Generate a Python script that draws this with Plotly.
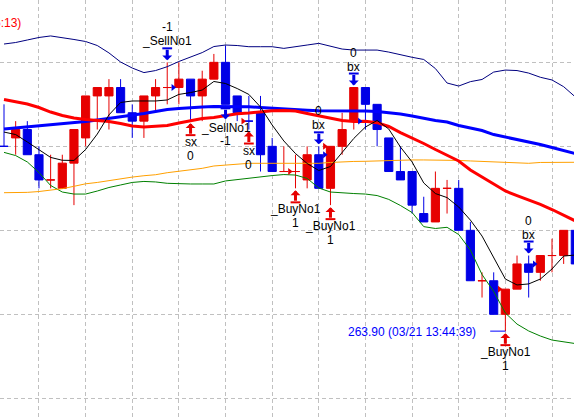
import plotly.graph_objects as go

# ---------------- data ----------------
opens = [265.00, 265.05, 265.10, 264.95, 264.80, 264.75, 264.90, 265.05, 265.30, 265.30,
         265.35, 265.20, 265.15, 265.30, 265.35, 265.35, 265.40, 265.30, 265.40, 265.50,
         265.30, 265.15, 265.20, 265.00, 264.85, 264.85, 264.80, 264.95, 264.75, 265.00,
         265.15, 265.35, 265.25, 265.05, 264.85, 264.85, 264.60, 264.55, 264.75, 264.75,
         264.50, 264.20, 264.20, 264.00, 264.15, 264.30, 264.25, 264.35, 264.35, 264.50]
highs = [265.25, 265.15, 265.15, 265.00, 264.95, 264.95, 265.10, 265.30, 265.35, 265.40,
         265.40, 265.25, 265.30, 265.40, 265.50, 265.50, 265.40, 265.45, 265.55, 265.60,
         265.30, 265.30, 265.30, 265.05, 265.00, 264.95, 265.00, 265.00, 265.00, 265.20,
         265.35, 265.35, 265.25, 265.05, 265.00, 264.85, 264.70, 264.85, 264.80, 264.80,
         264.55, 264.25, 264.25, 264.15, 264.35, 264.35, 264.35, 264.45, 264.50, 264.50]
lows = [265.00, 264.95, 264.95, 264.75, 264.75, 264.75, 264.65, 265.00, 265.10, 265.10,
        265.20, 265.05, 265.05, 265.20, 265.25, 265.25, 265.15, 265.15, 265.40, 265.25,
        265.15, 265.10, 264.85, 264.85, 264.85, 264.75, 264.75, 264.75, 264.65, 264.95,
        265.10, 265.10, 265.00, 264.85, 264.80, 264.60, 264.55, 264.55, 264.60, 264.50,
        264.20, 264.10, 264.00, 263.90, 264.15, 264.10, 264.20, 264.25, 264.30, 264.30]
closes = [265.00, 265.10, 264.95, 264.80, 264.80, 264.90, 265.10, 265.30, 265.35, 265.35,
          265.20, 265.15, 265.30, 265.35, 265.35, 265.40, 265.30, 265.40, 265.50, 265.25,
          265.20, 265.15, 264.95, 264.85, 264.85, 264.85, 264.95, 264.75, 265.00, 265.10,
          265.35, 265.25, 265.10, 264.85, 264.80, 264.65, 264.55, 264.75, 264.75, 264.50,
          264.20, 264.20, 264.00, 264.15, 264.30, 264.25, 264.35, 264.35, 264.50, 264.30]

upper_band = [265.609, 265.618, 265.633, 265.648, 265.657, 265.648, 265.636, 265.624, 265.600, 265.556,
              265.502, 265.466, 265.439, 265.451, 265.474, 265.505, 265.532, 265.558, 265.594, 265.603,
              265.600, 265.593, 265.593, 265.593, 265.583, 265.591, 265.603, 265.613, 265.594, 265.579,
              265.573, 265.573, 265.573, 265.561, 265.544, 265.530, 265.517, 265.463, 265.377, 265.359,
              265.385, 265.398, 265.442, 265.454, 265.451, 265.436, 265.411, 265.395, 265.355, 265.294]
ma_red = [265.279, 265.267, 265.252, 265.231, 265.204, 265.184, 265.169, 265.160, 265.154, 265.148,
          265.136, 265.121, 265.115, 265.118, 265.124, 265.139, 265.151, 265.166, 265.172, 265.184,
          265.194, 265.198, 265.207, 265.212, 265.213, 265.210, 265.195, 265.181, 265.166, 265.154,
          265.148, 265.149, 265.141, 265.118, 265.082, 265.050, 265.017, 264.981, 264.945, 264.913,
          264.859, 264.817, 264.776, 264.734, 264.707, 264.681, 264.654, 264.624, 264.591, 264.556]
ma_blue = [265.103, 265.109, 265.115, 265.121, 265.127, 265.133, 265.139, 265.148, 265.157, 265.166,
           265.175, 265.184, 265.195, 265.207, 265.219, 265.225, 265.231, 265.234, 265.237, 265.238,
           265.239, 265.236, 265.231, 265.226, 265.222, 265.218, 265.215, 265.212, 265.212, 265.212,
           265.212, 265.210, 265.207, 265.201, 265.192, 265.181, 265.166, 265.154, 265.145, 265.124,
           265.109, 265.094, 265.070, 265.056, 265.041, 265.029, 265.011, 264.993, 264.975, 264.957]
ma_orange = [264.724, 264.724, 264.726, 264.731, 264.740, 264.748, 264.762, 264.777, 264.785, 264.797,
             264.806, 264.817, 264.825, 264.831, 264.843, 264.851, 264.859, 264.869, 264.883, 264.889,
             264.895, 264.899, 264.899, 264.899, 264.899, 264.899, 264.899, 264.899, 264.904, 264.908,
             264.910, 264.911, 264.914, 264.916, 264.917, 264.919, 264.919, 264.919, 264.919, 264.916,
             264.913, 264.911, 264.909, 264.907, 264.901, 264.899, 264.904, 264.905, 264.905, 264.905]
lower_band = [264.964, 264.945, 264.907, 264.844, 264.767, 264.728, 264.716, 264.716, 264.734, 264.755,
              264.770, 264.785, 264.791, 264.788, 264.780, 264.776, 264.776, 264.776, 264.776, 264.794,
              264.803, 264.811, 264.817, 264.826, 264.832, 264.829, 264.809, 264.752, 264.728, 264.722,
              264.719, 264.716, 264.707, 264.684, 264.648, 264.606, 264.522, 264.511, 264.518, 264.475,
              264.383, 264.237, 264.136, 264.008, 263.942, 263.901, 263.871, 263.847, 263.835, 263.826]
ma_black = [265.085, 265.070, 265.026, 264.981, 264.934, 264.917, 264.916, 264.981, 265.073, 265.187,
            265.261, 265.270, 265.270, 265.270, 265.276, 265.309, 265.320, 265.335, 265.386, 265.374,
            265.344, 265.309, 265.234, 265.127, 265.032, 264.957, 264.898, 264.856, 264.880, 264.963,
            265.047, 265.115, 265.154, 265.103, 264.996, 264.907, 264.782, 264.719, 264.695, 264.639,
            264.561, 264.466, 264.335, 264.210, 264.175, 264.181, 264.210, 264.270, 264.347, 264.353]

# signal labels: (bar index, side, first text line, second text line)
signal_bars = [14, 16, 19, 21, 25, 27, 28, 30, 43, 45]
signal_side = ['high', 'low', 'low_down', 'low', 'low', 'high', 'low', 'high', 'low', 'high']
signal_name = ['_SellNo1', 'sx', '_SellNo1', 'sx', '_BuyNo1', 'bx', '_BuyNo1', 'bx', '_BuyNo1', 'bx']
signal_qty = ['-1', '0', '-1', '0', '1', '0', '1', '0', '1', '0']

# fill marks: (bar index, price, kind)
fill_bars = [14, 21, 25, 27, 28, 30, 43, 45]
fill_price = [265.35, 265.15, 264.85, 264.95, 265.00, 265.15, 264.15, 264.30]
fill_kind = ['sell', 'buy', 'buy', 'sell', 'buy', 'sell', 'buy', 'sell']

low_label_bar = 43
low_label_text = '263.90 (03/21 13:44:39)'
legend_text = '(5:13)'

# ---------------- styles ----------------
RED = '#e60000'
BLUE = '#0000e6'
FONT = 'Liberation Sans, Arial, sans-serif'
Y_RANGE = [263.383, 265.871]
HEIGHT = 418
PX = (Y_RANGE[1] - Y_RANGE[0]) / HEIGHT   # price units per pixel

idx = list(range(len(opens)))

# colour of each bar: up red, down blue, unchanged -> compared with previous close
rise = []
prev = None
for o, c in zip(opens, closes):
    if c > o:
        up = True
    elif c < o:
        up = False
    else:
        up = prev is not None and c >= prev
    rise.append(up)
    prev = c


def pick(values, want):
    return [v for v, r in zip(values, rise) if r == want]


fig = go.Figure()
for want, col in [(True, RED), (False, BLUE)]:
    fig.add_trace(go.Candlestick(
        x=pick(idx, want), open=pick(opens, want), high=pick(highs, want),
        low=pick(lows, want), close=pick(closes, want),
        increasing=dict(line=dict(color=col, width=1), fillcolor=col),
        decreasing=dict(line=dict(color=col, width=1), fillcolor=col),
        whiskerwidth=0, showlegend=False, hoverinfo='skip'))

line_specs = [
    (lower_band, '#008000', 1),
    (ma_orange, '#ffa000', 1),
    (upper_band, '#000080', 1),
    (ma_blue, '#0000ff', 3),
    (ma_red, '#ff0000', 3),
    (ma_black, '#000000', 1),
]
for ys, col, w in line_specs:
    fig.add_trace(go.Scatter(x=idx, y=ys, mode='lines', line=dict(color=col, width=w),
                             showlegend=False, hoverinfo='skip'))

# fill marks
for kind, col in [('buy', RED), ('sell', BLUE)]:
    xs = [b + (-0.5 if kind == 'buy' else 0.5) for b, k in zip(fill_bars, fill_kind) if k == kind]
    ys = [p for p, k in zip(fill_price, fill_kind) if k == kind]
    fig.add_trace(go.Scatter(x=xs, y=ys, mode='markers',
                             marker=dict(symbol='triangle-right', size=6, color=col),
                             showlegend=False, hoverinfo='skip'))

annotations = []
bar_x = {RED: [], BLUE: []}
bar_y = {RED: [], BLUE: []}
for b, side, name, qty in zip(signal_bars, signal_side, signal_name, signal_qty):
    if side == 'high':
        base, sgn, col = highs[b], 1, BLUE
        tip, tail = 2, 14          # pixels away from the bar extreme
        t1, t2 = 21, 35
    elif side == 'low':
        base, sgn, col = lows[b], -1, RED
        tip, tail = 2, 14
        t1, t2 = 21, 35
    else:                          # below the bar, pointing down
        base, sgn, col = lows[b], -1, BLUE
        tip, tail = 15, 4
        t1, t2 = 24, 37
    annotations.append(dict(x=b, y=base, yshift=sgn * tip, text='', showarrow=True, ax=0,
                            ay=-sgn * (tail - tip), arrowhead=1, arrowwidth=3, arrowsize=0.55,
                            arrowcolor=col))
    bar_x[col].append(b)
    bar_y[col].append(base + sgn * tail * PX)
    annotations.append(dict(x=b, y=base, yshift=sgn * t1, text=name, showarrow=False,
                            font=dict(family=FONT, size=12, color='black')))
    annotations.append(dict(x=b, y=base, yshift=sgn * t2, text=qty, showarrow=False,
                            font=dict(family=FONT, size=12, color='black')))

for col in (RED, BLUE):
    fig.add_trace(go.Scatter(x=bar_x[col], y=bar_y[col], mode='markers',
                             marker=dict(symbol='line-ew', size=7, line=dict(color=col, width=2)),
                             showlegend=False, hoverinfo='skip'))

annotations.append(dict(x=low_label_bar, y=lows[low_label_bar], xanchor='right', xshift=-27,
                        yshift=-1, text=low_label_text, showarrow=False,
                        font=dict(family=FONT, size=12, color='#0000ff')))
annotations.append(dict(x=0, y=1, xref='paper', yref='paper', xanchor='right', yanchor='middle',
                        xshift=23, yshift=-23, text=legend_text, showarrow=False,
                        font=dict(family=FONT, size=12, color='#ff0000')))

shapes = [dict(type='line', x0=low_label_bar - 1.3, x1=low_label_bar,
               y0=lows[low_label_bar], y1=lows[low_label_bar],
               line=dict(color='#0000ff', width=1))]

fig.update_layout(
    width=574, height=HEIGHT, margin=dict(l=0, r=0, t=0, b=0),
    paper_bgcolor='white', plot_bgcolor='white',
    boxgap=0.3, boxgroupgap=0,
    annotations=annotations, shapes=shapes,
    xaxis=dict(range=[-0.343, 48.887], tick0=3, dtick=4, showticklabels=False, ticks='',
               showgrid=True, gridcolor='#c0c0c0', griddash='4px,3px', gridwidth=1,
               zeroline=False, showline=False, rangeslider=dict(visible=False)),
    yaxis=dict(range=Y_RANGE, tick0=264, dtick=0.5, showticklabels=False, ticks='',
               showgrid=True, gridcolor='#c0c0c0', griddash='4px,3px', gridwidth=1,
               zeroline=False, showline=False),
)

fig.write_html('out.html', config={'displayModeBar': False},
               post_script="document.body.style.margin='0';document.body.style.overflow='hidden';")
